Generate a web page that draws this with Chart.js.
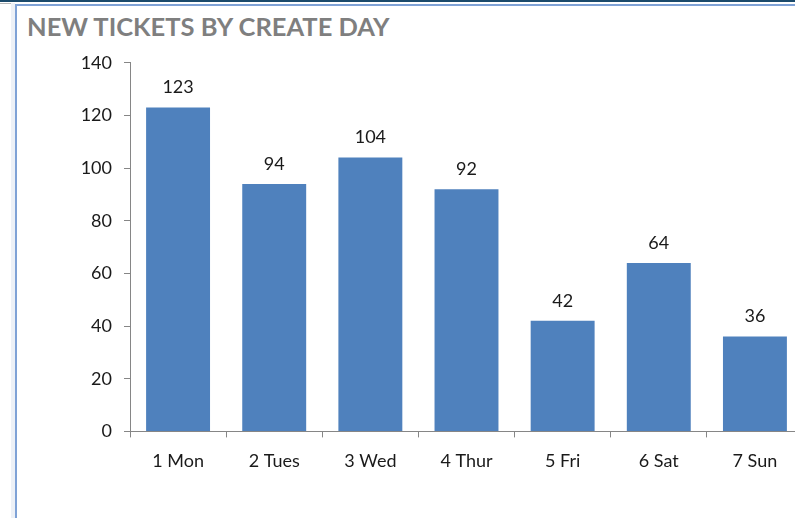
<!DOCTYPE html>
<html>
<head>
<meta charset="utf-8">
<script src="https://cdn.jsdelivr.net/npm/chart.js@4.4.0/dist/chart.umd.min.js"></script>
<style>
    html, body {
        margin: 0;
        padding: 0;
        width: 795px;
        height: 518px;
        overflow: hidden;
        background: #fff;
    }
    .top-bar {
        position: absolute; left: 0; top: 0; width: 795px; height: 2px;
        background: #1b4a6b;
    }
    .top-rule {
        position: absolute; left: 0; top: 3px; width: 12px; height: 1px;
        background: #b8b8b8;
    }
    .side-strip {
        position: absolute; left: 11px; top: 3px; width: 4px; height: 515px;
        background: #edf1f7;
    }
    .frame {
        position: absolute; left: 15px; top: 4px; width: 800px; height: 530px;
        border-left: 2px solid #7fa2d6;
        border-top: 2px solid #7fa2d6;
    }
    .title {
        position: absolute; left: 27px; top: 11px;
        font: bold 25.5px Lato, sans-serif;
        color: #7f7f7f;
        white-space: nowrap;
    }
    .chart-box {
        position: absolute; left: 17px; top: 40px; width: 810px; height: 478px;
    }
</style>
</head>
<body>
<div class="top-bar"></div>
<div class="top-rule"></div>
<div class="side-strip"></div>
<div class="frame"></div>
<div class="title">NEW TICKETS BY CREATE DAY</div>
<div class="chart-box"><canvas id="ticketsChart"></canvas></div>

<script>
// tickets created per weekday
const days = ['1 Mon', '2 Tues', '3 Wed', '4 Thur', '5 Fri', '6 Sat', '7 Sun'];
const newTickets = [123, 94, 104, 92, 42, 64, 36];
const yTicks = [0, 20, 40, 60, 80, 100, 120, 140];

const FONT = 'Lato, sans-serif';
const TEXT = '#1a1a1a';
const AXIS = '#868686';

// prints each bar's value just above it
const valueLabels = {
    id: 'valueLabels',
    afterDatasetsDraw(chart) {
        const { ctx } = chart;
        const meta = chart.getDatasetMeta(0);
        ctx.save();
        ctx.font = '18px ' + FONT;
        ctx.fillStyle = TEXT;
        ctx.textAlign = 'center';
        ctx.textBaseline = 'bottom';
        meta.data.forEach((bar, i) => {
            ctx.fillText(String(newTickets[i]), bar.x, bar.y - 11);
        });
        ctx.restore();
    }
};

new Chart(document.getElementById('ticketsChart'), {
    type: 'bar',
    data: {
        labels: days,
        datasets: [{
            data: newTickets,
            backgroundColor: '#4f81bd',
            borderWidth: 0,
            categoryPercentage: 1,
            barPercentage: 0.665
        }]
    },
    options: {
        responsive: true,
        maintainAspectRatio: false,
        animation: false,
        layout: { padding: { left: 10, right: 24, top: 4, bottom: 33 } },
        plugins: {
            legend: { display: false },
            tooltip: { enabled: false }
        },
        scales: {
            x: {
                grid: {
                    display: true,
                    offset: true,
                    drawOnChartArea: false,
                    drawTicks: true,
                    tickLength: 6,
                    color: AXIS
                },
                border: { color: AXIS, width: 1 },
                ticks: {
                    color: TEXT,
                    font: { family: FONT, size: 18 },
                    padding: 13,
                    maxRotation: 0
                }
            },
            y: {
                min: 0,
                max: 140,
                afterBuildTicks(scale) {
                    scale.ticks = yTicks.map(v => ({ value: v }));
                },
                afterFit(scale) {
                    scale.width = 103;
                },
                grid: {
                    drawOnChartArea: false,
                    drawTicks: true,
                    tickLength: 6,
                    color: AXIS
                },
                border: { color: AXIS, width: 1 },
                ticks: {
                    color: TEXT,
                    font: { family: FONT, size: 18 },
                    padding: 12
                }
            }
        }
    },
    plugins: [valueLabels]
});
</script>
</body>
</html>
